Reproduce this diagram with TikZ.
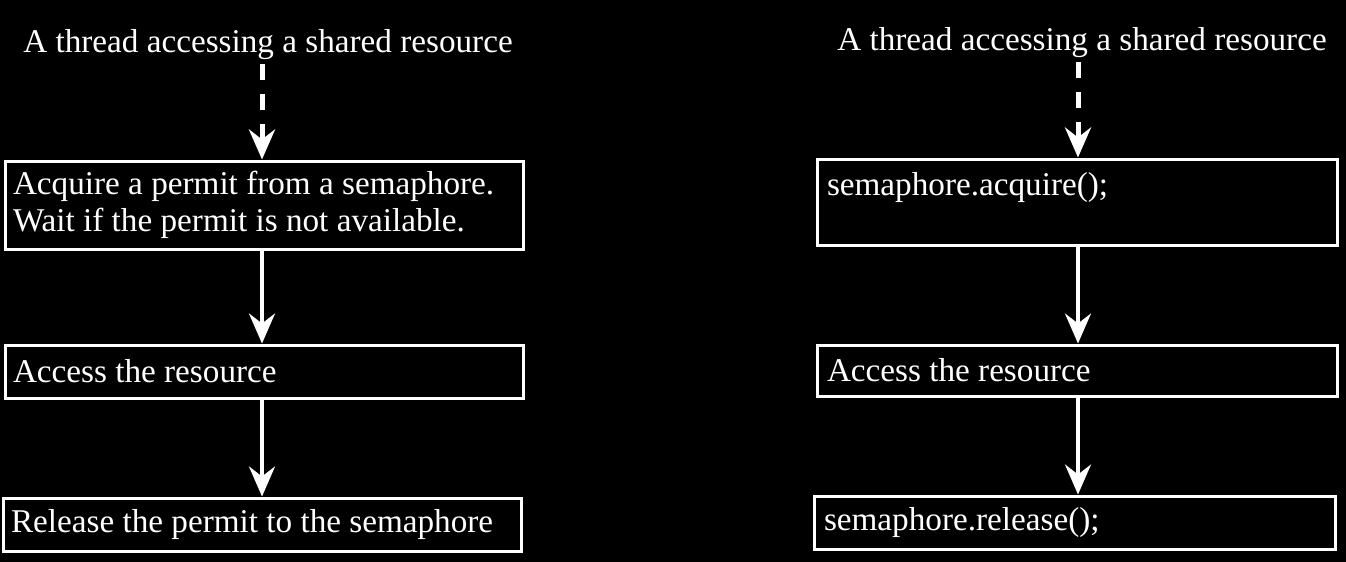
\documentclass[tikz,border=0pt]{standalone}
\usepackage{fontspec}
\setmainfont{Liberation Serif}
\usetikzlibrary{arrows.meta}
\begin{document}
\begin{tikzpicture}[x=0.5pt,y=-0.5pt,
  every node/.style={text=white,font=\fontsize{16.6}{18.2}\selectfont},
  stepbox/.style={draw=white,line width=1.5pt,inner xsep=4pt,inner ysep=0pt,align=flush left,anchor=center},
  title/.style={inner sep=1pt},
  flow/.style={draw=white,line width=1.8pt,-{Stealth[length=15pt,width=13pt,inset=5pt]}},
  dflow/.style={draw=white,line width=2.5pt,dash pattern=on 8pt off 7pt,-{Stealth[length=15pt,width=13pt,inset=5pt]}}]
\fill[black] (0,0) rectangle (1346,562);
% left column
\node[title] (LT) at (268,45) {A thread accessing a shared resource};
\node[stepbox,minimum height=44pt,text width=251pt] (L1) at (264,205)
  {Acquire a permit from a semaphore.\\Wait if the permit is not available.};
\node[stepbox,minimum height=26.5pt,text width=251pt] (L2) at (264,371.5) {Access the resource};
\node[stepbox,minimum height=26.5pt,text width=251pt] (L3) at (262,524.5) {Release the permit to the semaphore};
% right column
\node[title] (RT) at (1082,43) {A thread accessing a shared resource};
\node[stepbox,minimum height=43pt,text width=250pt,inner xsep=5pt] (R1) at (1077,202)
  {semaphore.acquire();\\\mbox{}};
\node[stepbox,minimum height=25.5pt,text width=250pt,inner xsep=5pt] (R2) at (1077,370.5) {Access the resource};
\node[stepbox,minimum height=26.5pt,text width=250.5pt,inner xsep=5pt] (R3) at (1074.5,522.5) {semaphore.release();};
% connectors
\coordinate (LA) at (262,64);
\coordinate (RA) at (1078,62);
\draw[dflow] (LA) -- (LA |- L1.north);
\draw[flow] (L1.south -| LA) -- (L2.north -| LA);
\draw[flow] (L2.south -| LA) -- (L3.north -| LA);
\draw[dflow] (RA) -- (RA |- R1.north);
\draw[flow] (R1.south -| RA) -- (R2.north -| RA);
\draw[flow] (R2.south -| RA) -- (R3.north -| RA);
\end{tikzpicture}
\end{document}
